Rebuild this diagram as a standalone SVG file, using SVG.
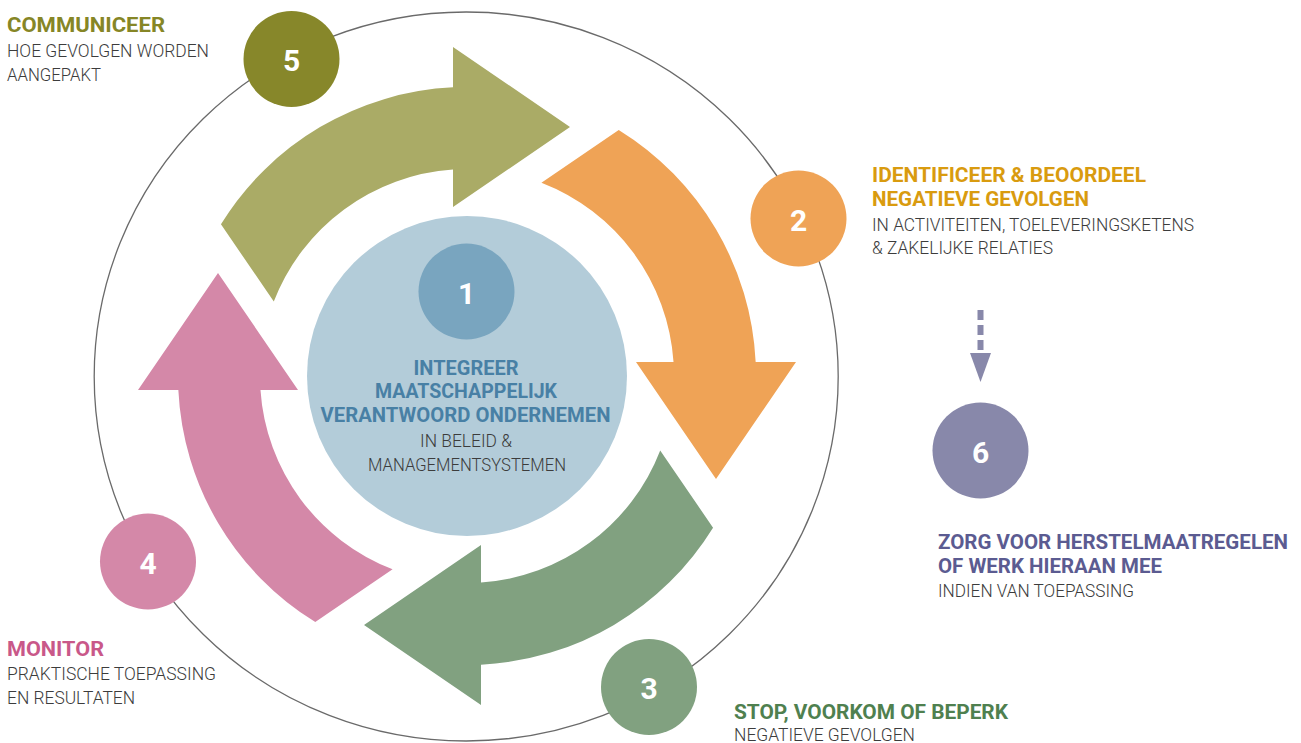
<svg xmlns="http://www.w3.org/2000/svg" width="1301" height="743" viewBox="0 0 1301 743">
<style>
.t{font-family:"Roboto","Liberation Sans",sans-serif;font-weight:700;font-size:20px}
.b{font-family:"Roboto","Liberation Sans",sans-serif;font-weight:300;font-size:18px;fill:#3c3c3c}
.n{font-family:"Roboto","Liberation Sans",sans-serif;font-weight:700;font-size:30px;fill:#ffffff;text-anchor:middle}
.c{text-anchor:middle}
</style>
<defs>
<path id="arr" d="M -246.05 -151.72 A 289 289 0 0 1 -14 -288.66 L -14 -329 L 103 -249 L -14 -169 L -14 -206.53 A 207 207 0 0 0 -193.21 -74.43 Z"/>
</defs>
<rect width="1301" height="743" fill="#ffffff"/>
<ellipse cx="466.2" cy="376.5" rx="372" ry="364.5" fill="none" stroke="#6a6a6a" stroke-width="1.3"/>
<g id="connectors">
<g transform="translate(467,376)">
<use href="#arr" fill="#aaab66"/>
<use href="#arr" fill="#efa356" transform="rotate(90)"/>
<use href="#arr" fill="#81a180" transform="rotate(180)"/>
<use href="#arr" fill="#d488a8" transform="rotate(270)"/>
</g>
<line x1="980.5" y1="310" x2="980.5" y2="350" stroke="#8888aa" stroke-width="6" stroke-dasharray="10 5"/>
<polygon points="970,353 991,353 980.5,382" fill="#8888aa"/>
</g>
<g id="step1">
<circle cx="467" cy="376" r="160" fill="#b3ccd9"/>
<circle cx="466.5" cy="291.5" r="48" fill="#79a5bf"/>
<text class="n" x="466.5" y="304">1</text>
<text class="t c" fill="#4880a5" x="466" y="375" textLength="105" lengthAdjust="spacingAndGlyphs">INTEGREER</text>
<text class="t c" fill="#4880a5" x="466" y="398.3" textLength="182" lengthAdjust="spacingAndGlyphs">MAATSCHAPPELIJK</text>
<text class="t c" fill="#4880a5" x="465.5" y="422.3" textLength="290" lengthAdjust="spacingAndGlyphs">VERANTWOORD ONDERNEMEN</text>
<text class="b c" x="466" y="446.7" textLength="92" lengthAdjust="spacingAndGlyphs">IN BELEID &amp;</text>
<text class="b c" x="467" y="471" textLength="198" lengthAdjust="spacingAndGlyphs">MANAGEMENTSYSTEMEN</text>
</g>
<g id="step2">
<circle cx="798.5" cy="218.5" r="48" fill="#efa356"/>
<text class="n" x="798.5" y="230.5">2</text>
<text class="t" fill="#d99b0f" x="872" y="182.3" textLength="274" lengthAdjust="spacingAndGlyphs">IDENTIFICEER &amp; BEOORDEEL</text>
<text class="t" fill="#d99b0f" x="872" y="205.7" textLength="217" lengthAdjust="spacingAndGlyphs">NEGATIEVE GEVOLGEN</text>
<text class="b" x="872" y="230.7" textLength="322" lengthAdjust="spacingAndGlyphs">IN ACTIVITEITEN, TOELEVERINGSKETENS</text>
<text class="b" x="872" y="254.3" textLength="181" lengthAdjust="spacingAndGlyphs">&amp; ZAKELIJKE RELATIES</text>
</g>
<g id="step3">
<circle cx="649" cy="687" r="48" fill="#81a180"/>
<text class="n" x="649" y="699">3</text>
<text class="t" fill="#4f804f" x="734" y="719.3" textLength="274" lengthAdjust="spacingAndGlyphs">STOP, VOORKOM OF BEPERK</text>
<text class="b" x="734" y="740.5" textLength="181" lengthAdjust="spacingAndGlyphs">NEGATIEVE GEVOLGEN</text>
</g>
<g id="step4">
<circle cx="148" cy="561.5" r="48" fill="#d488a8"/>
<text class="n" x="148" y="573.5">4</text>
<text class="t" fill="#c95889" x="7" y="655.7" textLength="97" lengthAdjust="spacingAndGlyphs">MONITOR</text>
<text class="b" x="7" y="680" textLength="209" lengthAdjust="spacingAndGlyphs">PRAKTISCHE TOEPASSING</text>
<text class="b" x="7" y="704.3" textLength="128" lengthAdjust="spacingAndGlyphs">EN RESULTATEN</text>
</g>
<g id="step5">
<circle cx="291.5" cy="59" r="48" fill="#87872a"/>
<text class="n" x="291.5" y="71">5</text>
<text class="t" fill="#868626" x="7" y="32.3" textLength="158" lengthAdjust="spacingAndGlyphs">COMMUNICEER</text>
<text class="b" x="7" y="57.3" textLength="202" lengthAdjust="spacingAndGlyphs">HOE GEVOLGEN WORDEN</text>
<text class="b" x="7" y="81" textLength="94" lengthAdjust="spacingAndGlyphs">AANGEPAKT</text>
</g>
<g id="step6">
<circle cx="980.5" cy="450.5" r="48" fill="#8888aa"/>
<text class="n" x="980.5" y="462.5">6</text>
<text class="t" fill="#5b5b91" x="938" y="549" textLength="350" lengthAdjust="spacingAndGlyphs">ZORG VOOR HERSTELMAATREGELEN</text>
<text class="t" fill="#5b5b91" x="938" y="572.7" textLength="224" lengthAdjust="spacingAndGlyphs">OF WERK HIERAAN MEE</text>
<text class="b" x="938" y="597.3" textLength="196" lengthAdjust="spacingAndGlyphs">INDIEN VAN TOEPASSING</text>
</g>
</svg>
